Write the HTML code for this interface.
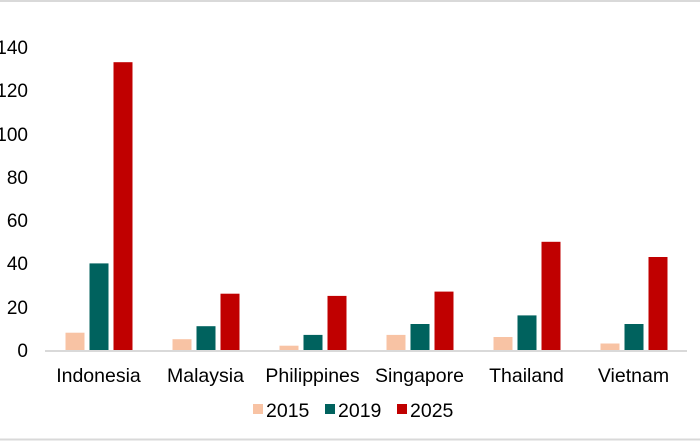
<!DOCTYPE html>
<html><head><meta charset="utf-8"><style>
html,body{margin:0;padding:0;background:#fff;}
svg{display:block;font-family:"Liberation Sans",Arial,sans-serif;}
</style></head><body>
<svg width="700" height="441" viewBox="0 0 700 441" xmlns="http://www.w3.org/2000/svg">
<rect x="0" y="0" width="700" height="441" fill="#fff"/>
<line x1="0" y1="1" x2="700" y2="1" stroke="#d9d9d9" stroke-width="2"/>
<line x1="0" y1="439.5" x2="700" y2="439.5" stroke="#d9d9d9" stroke-width="2"/>
<g font-size="19" fill="#000" text-anchor="end">
<text x="28" y="357">0</text>
<text x="28" y="314">20</text>
<text x="28" y="270">40</text>
<text x="28" y="227">60</text>
<text x="28" y="184">80</text>
<text x="28" y="141">100</text>
<text x="28" y="97">120</text>
<text x="28" y="54">140</text>
</g>
<line x1="45" y1="351" x2="687" y2="351" stroke="#d9d9d9" stroke-width="2"/>
<g font-size="19.5" fill="#000" text-anchor="middle">
<text x="98.5" y="382">Indonesia</text>
<text x="205.5" y="382">Malaysia</text>
<text x="312.5" y="382">Philippines</text>
<text x="419.5" y="382">Singapore</text>
<text x="526.5" y="382">Thailand</text>
<text x="633.5" y="382">Vietnam</text>
</g>
<rect x="253" y="404" width="10" height="10" fill="#f8c3a4"/>
<text x="266" y="417" font-size="19.5">2015</text>
<rect x="325" y="404" width="10" height="10" fill="#00625e"/>
<text x="338" y="417" font-size="19.5">2019</text>
<rect x="397" y="404" width="10" height="10" fill="#c00000"/>
<text x="410" y="417" font-size="19.5">2025</text>
<g>
<rect x="65.5" y="332.7" width="19" height="17.3" fill="#f8c3a4"/>
<rect x="89.5" y="263.4" width="19" height="86.6" fill="#00625e"/>
<rect x="113.5" y="62.2" width="19" height="287.8" fill="#c00000"/>

<rect x="172.5" y="339.2" width="19" height="10.8" fill="#f8c3a4"/>
<rect x="196.5" y="326.2" width="19" height="23.8" fill="#00625e"/>
<rect x="220.5" y="293.7" width="19" height="56.3" fill="#c00000"/>

<rect x="279.5" y="345.7" width="19" height="4.3" fill="#f8c3a4"/>
<rect x="303.5" y="334.9" width="19" height="15.1" fill="#00625e"/>
<rect x="327.5" y="295.9" width="19" height="54.1" fill="#c00000"/>

<rect x="386.5" y="334.9" width="19" height="15.1" fill="#f8c3a4"/>
<rect x="410.5" y="324.0" width="19" height="26.0" fill="#00625e"/>
<rect x="434.5" y="291.6" width="19" height="58.4" fill="#c00000"/>

<rect x="493.5" y="337.0" width="19" height="13.0" fill="#f8c3a4"/>
<rect x="517.5" y="315.4" width="19" height="34.6" fill="#00625e"/>
<rect x="541.5" y="241.8" width="19" height="108.2" fill="#c00000"/>

<rect x="600.5" y="343.5" width="19" height="6.5" fill="#f8c3a4"/>
<rect x="624.5" y="324.0" width="19" height="26.0" fill="#00625e"/>
<rect x="648.5" y="257.0" width="19" height="93.0" fill="#c00000"/>
</g>
</svg>
</body></html>
